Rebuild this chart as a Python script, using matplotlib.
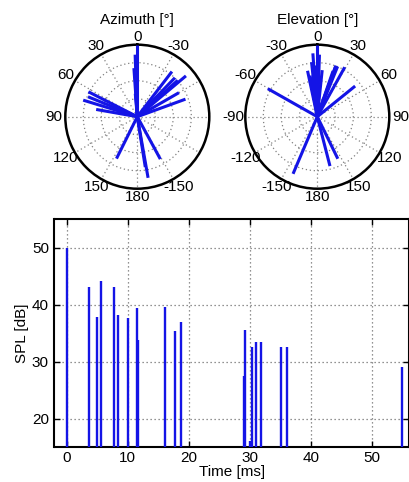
import numpy as np
import matplotlib
matplotlib.use("Agg")
import matplotlib.pyplot as plt

plt.rcParams['font.family'] = ['Liberation Sans', 'DejaVu Sans']

# ---- data ----
time_ms = [0.0, 3.7, 4.9, 5.7, 7.7, 8.35, 10.05, 11.5, 11.75, 16.1, 17.75, 18.8,
           29.1, 29.3, 30.0, 30.3, 31.1, 31.9, 35.1, 36.1, 54.9]
spl_db = [50.0, 43.1, 37.8, 44.1, 43.1, 38.1, 37.6, 39.3, 33.8, 39.5, 35.4, 36.9,
          27.5, 35.6, 16.0, 32.5, 33.5, 33.4, 32.6, 32.5, 29.0]
azimuth_deg = [0, 2, -48, -50, -170, 63, -44, 73, 4, -37.5, -171, 68,
               3, -70, 5, 153.6, -151.5, -60, 2, 1, 80]
elevation_deg = [0, 2, 20, -4, -157, -6, 22, 29, 51, -60.5, 165.6, 20,
                 -8, -2, 3, 154, 19, 0, -12, 6, -10]

angle_ticks = list(range(0, 360, 30))
angle_labels = [str(a if a <= 180 else a - 360) for a in angle_ticks]
spl_ticks = [20, 30, 40, 50]
time_ticks = [0, 10, 20, 30, 40, 50]

BLUE = '#1414e6'
FS = 11
W, H = 410, 482
fig = plt.figure(figsize=(W / 100, H / 100), dpi=100)

# ---- bottom SPL vs time axes ----
x0, x1, yt, yb = 54.5, 409.0, 219, 447
ax = fig.add_axes([x0 / W, (H - yb) / H, (x1 - x0) / W, (yb - yt) / H])
ax.vlines(time_ms, 0, spl_db, color=BLUE, lw=1.7, zorder=3)
ax.set_xlim(-2, 56.1)
ax.set_ylim(15, 55)
ax.set_xticks(time_ticks)
ax.set_yticks(spl_ticks)
ax.grid(True, color='#707070', linestyle=(0, (1, 2.2)), lw=0.9)
ax.tick_params(direction='in', length=4, width=1, top=True, right=True,
               labelsize=FS)
ax.tick_params(axis='x', pad=3)
ax.tick_params(axis='y', pad=4)
for s in ax.spines.values():
    s.set_linewidth(1.5)
ax.set_xlabel('Time [ms]', fontsize=FS, labelpad=0)
ax.set_ylabel('SPL [dB]', fontsize=FS, labelpad=2)

# ---- polar plots ----
R = 72.0
rmax = 50.0


def make_polar(cx, cy, angles, direction, title, skip_labels=()):
    p = fig.add_axes([(cx - R) / W, (H - cy - R) / H, 2 * R / W, 2 * R / H],
                     projection='polar')
    p.set_theta_zero_location('N')
    p.set_theta_direction(direction)
    for a, r in zip(angles, spl_db):
        th = np.deg2rad(a)
        p.plot([th, th], [0, r], color=BLUE, lw=2.2, solid_capstyle='butt', zorder=3)
    p.set_rlim(0, rmax)
    p.set_rticks([rmax * 0.25, rmax * 0.5, rmax * 0.75])
    p.set_yticklabels([])
    p.set_xticks(np.deg2rad(angle_ticks))
    p.set_xticklabels([])
    p.grid(True, color='#808080', linestyle=(0, (1, 2.2)), lw=0.9)
    p.spines['polar'].set_linewidth(1.8)
    for a, lab in zip(angle_ticks, angle_labels):
        if lab in skip_labels:
            continue
        th = np.deg2rad(a)
        rl = rmax * (1.11 + 0.05 * abs(np.sin(th)))
        p.text(th, rl, lab, ha='center', va='center', fontsize=FS, clip_on=False)
    fig.text(cx / W, 1 - 20 / H, title, ha='center', va='center', fontsize=FS)
    return p


make_polar(137.3, 116.7, azimuth_deg, 1, 'Azimuth [°]',
           skip_labels=('-60', '-90', '-120'))
make_polar(317.3, 116.7, elevation_deg, -1, 'Elevation [°]')

fig.savefig('out.png', dpi=100)
